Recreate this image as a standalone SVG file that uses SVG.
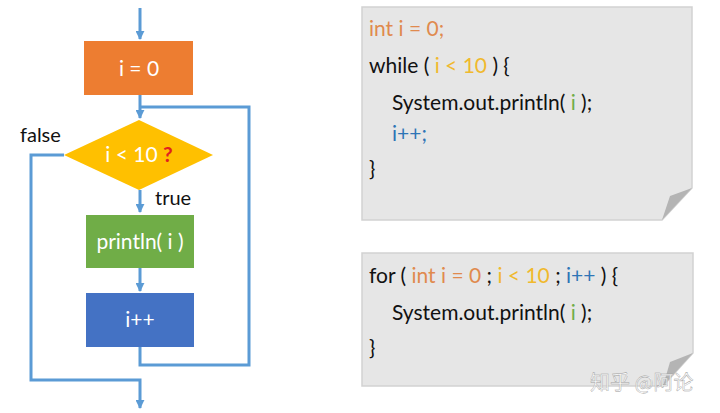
<svg xmlns="http://www.w3.org/2000/svg" width="720" height="413" viewBox="0 0 720 413">
<style>
.ln{fill:none;stroke:#5B9BD5;stroke-width:3;}
.lbl{font-family:"Lato","Noto Sans",sans-serif;font-size:21px;fill:#fff;text-anchor:middle;}
.side{font-family:"Lato","Noto Sans",sans-serif;font-size:20px;fill:#111;}
.code{font-family:"Lato","Noto Sans",sans-serif;font-size:21px;fill:#111;}
.box{fill:#E6E6E6;stroke:#D2D2D2;stroke-width:1.5;}
.fold{fill:#B4B4B4;}
.o{fill:#E08A4E;} .y{fill:#F0B92E;} .g{fill:#70AD47;} .b{fill:#2E75B6;}
</style>
<defs>
<marker id="ah" viewBox="0 0 10 10" refX="9" refY="5" markerWidth="3" markerHeight="3" orient="auto" markerUnits="strokeWidth">
<path d="M0,0 L10,5 L0,10 z" fill="#5B9BD5"/>
</marker>
</defs>
<rect width="720" height="413" fill="#fff"/>
<g id="connectors">
<path class="ln" d="M140,8 V39" marker-end="url(#ah)"/>
<path class="ln" d="M140,95 V118" marker-end="url(#ah)"/>
<path class="ln" d="M140,190 V212" marker-end="url(#ah)"/>
<path class="ln" d="M140,268 V291" marker-end="url(#ah)"/>
<path class="ln" d="M140,347 V365 H249 V107 H140"/>
<path class="ln" d="M64,155 H31 V380 H140 V408" marker-end="url(#ah)"/>
</g>
<g id="init">
<rect x="84" y="41" width="109" height="54" fill="#ED7D31"/>
<text class="lbl" x="139" y="76">i = 0</text>
</g>
<g id="cond">
<polygon points="139,120 213,155 139,190 64,155" fill="#FFC000"/>
<text class="lbl" x="139" y="162">i &lt; 10 <tspan fill="#E02020" font-weight="bold">?</tspan></text>
<text class="side" x="20" y="142">false</text>
<text class="side" x="155" y="205">true</text>
</g>
<g id="print">
<rect x="86" y="215" width="108" height="53" fill="#70AD47"/>
<text class="lbl" x="140" y="249">println( i )</text>
</g>
<g id="inc">
<rect x="86" y="293" width="108" height="54" fill="#4472C4"/>
<text class="lbl" x="140" y="327">i++</text>
</g>
<g id="while-code">
<path class="box" d="M362,7 H692 V188 L662,220 H362 Z"/>
<path class="fold" d="M662,220 L692,188 L670,196 Z"/>
<text class="code o" x="369" y="36">int i = 0;</text>
<text class="code" x="369" y="73">while ( <tspan class="y">i &lt; 10</tspan> ) {</text>
<text class="code" x="392" y="110">System.out.println( <tspan class="g">i</tspan> );</text>
<text class="code b" x="392" y="141">i++;</text>
<text class="code" x="369" y="176">}</text>
</g>
<g id="for-code">
<path class="box" d="M362,253 H693 V353 L663,386 H362 Z"/>
<path class="fold" d="M663,386 L693,353 L670,362 Z"/>
<text class="code" x="369" y="283">for ( <tspan class="o">int i = 0</tspan> ; <tspan class="y">i &lt; 10</tspan> ; <tspan class="b">i++</tspan> ) {</text>
<text class="code" x="392" y="320">System.out.println( <tspan class="g">i</tspan> );</text>
<text class="code" x="369" y="355">}</text>
</g>
<text x="590" y="390" font-family="'Noto Sans CJK SC',sans-serif" font-size="20" fill="#fff" fill-opacity="0.9" stroke="#999" stroke-width="0.4">知乎 @阿论</text>
</svg>
